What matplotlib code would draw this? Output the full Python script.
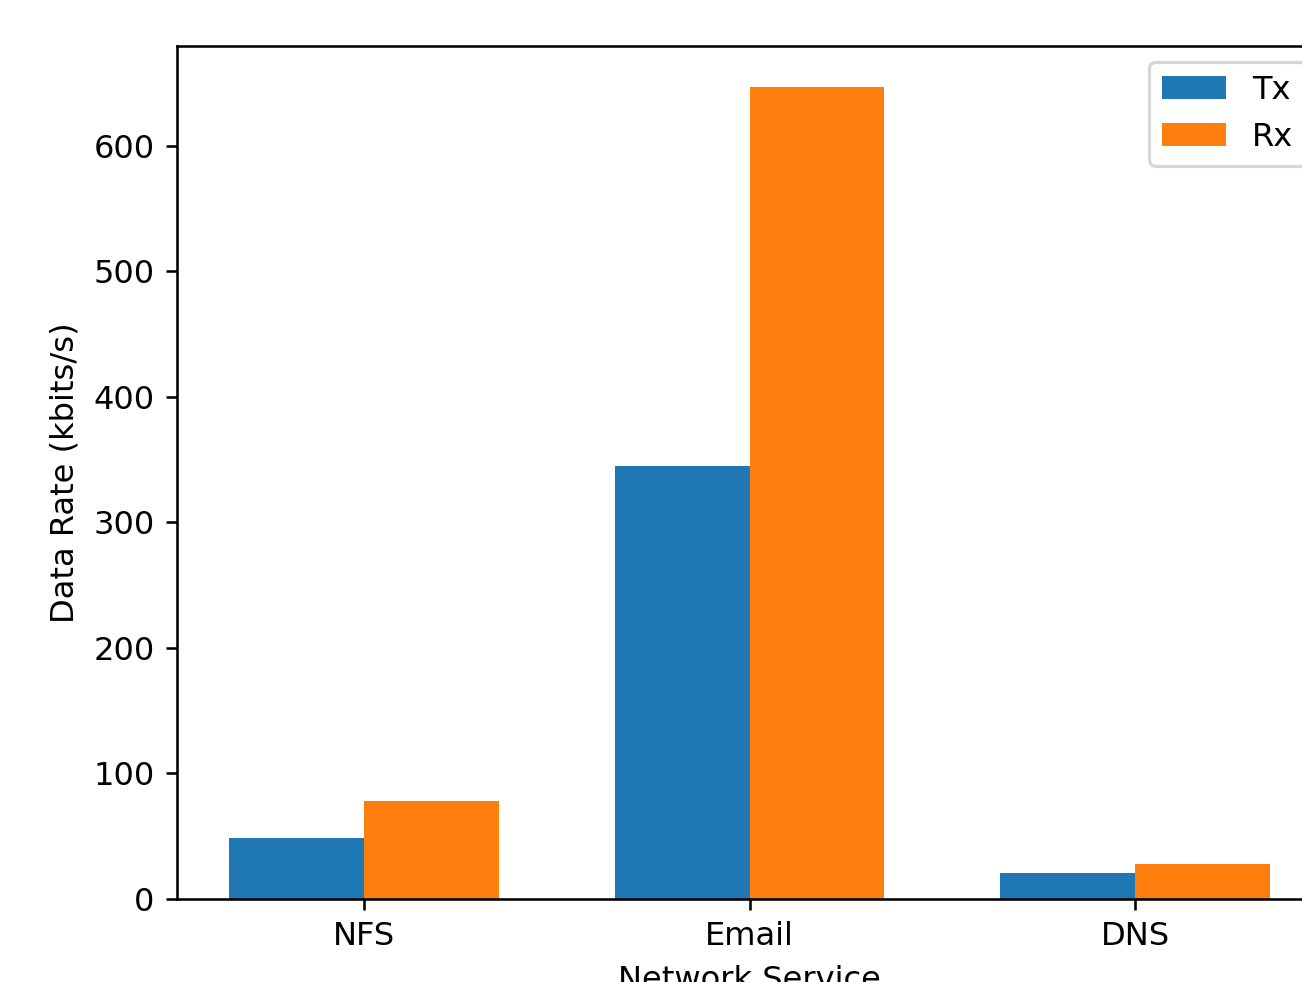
import numpy as np
import matplotlib.pyplot as plt

services = ['NFS', 'Email', 'DNS']
tx_rates = [48.5, 344.5, 20.5]
rx_rates = [78, 647, 28]

x = np.arange(len(services))
width = 0.35

# picture is a zoomed crop of a default 640x480 figure (scale ~2.31)
fig = plt.figure(figsize=(1302 / 231, 982 / 231), dpi=231)
ax = fig.add_axes([177 / 1302, 83 / 982, 1145 / 1302, 853 / 982])

ax.bar(x - width / 2, tx_rates, width, label='Tx')
ax.bar(x + width / 2, rx_rates, width, label='Rx')

ax.set_xticks(x)
ax.set_xticklabels(services)
ax.set_xlabel('Network Service')
ax.set_ylabel('Data Rate (kbits/s)')
ax.legend(loc='upper right')

fig.savefig('out.png', dpi=231)
